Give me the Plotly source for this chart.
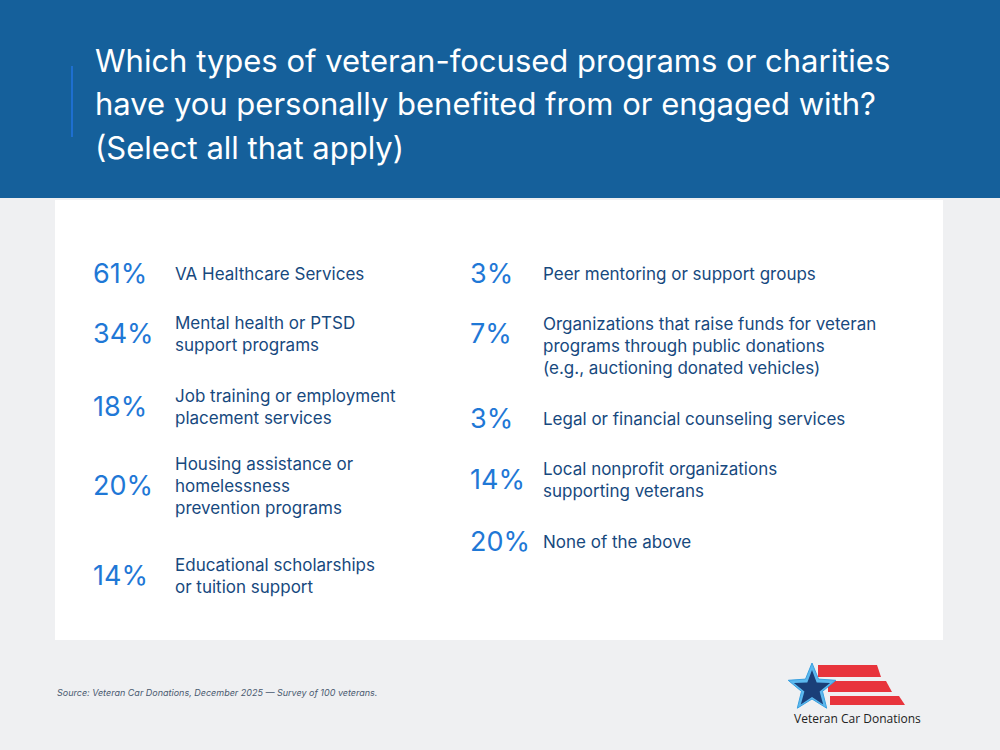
import math
import plotly.graph_objects as go

title_lines = ["Which types of veteran-focused programs or charities",
               "have you personally benefited from or engaged with?",
               "(Select all that apply)"]
left_pcts = ["61%", "34%", "18%", "20%", "14%"]
left_labels = ["VA Healthcare Services",
               "Mental health or PTSD<br>support programs",
               "Job training or employment<br>placement services",
               "Housing assistance or<br>homelessness<br>prevention programs",
               "Educational scholarships<br>or tuition support"]
right_pcts = ["3%", "7%", "3%", "14%", "20%"]
right_labels = ["Peer mentoring or support groups",
                "Organizations that raise funds for veteran<br>programs through public donations<br>(e.g., auctioning donated vehicles)",
                "Legal or financial counseling services",
                "Local nonprofit organizations<br>supporting veterans",
                "None of the above"]
source = "Source: Veteran Car Donations, December 2025 — Survey of 100 veterans."
brand = "Veteran Car Donations"

left_y = [276, 336, 409, 488, 578]
right_y = [276, 348, 421, 482, 544]
right_pct_y = [276, 336, 421, 482, 544]

FONT = "Inter"
PCT_C = "#1F78D6"
LAB_C = "#17497E"

fig = go.Figure()
fig.add_trace(go.Scatter(x=[93]*5, y=left_y, mode="text", text=left_pcts, textposition="middle right",
                         textfont=dict(family=FONT, size=27, color=PCT_C), hoverinfo="skip"))
fig.add_trace(go.Scatter(x=[175]*5, y=left_y, mode="text", text=left_labels, textposition="middle right",
                         textfont=dict(family=FONT, size=17, color=LAB_C), hoverinfo="skip"))
fig.add_trace(go.Scatter(x=[470]*5, y=right_pct_y, mode="text", text=right_pcts, textposition="middle right",
                         textfont=dict(family=FONT, size=27, color=PCT_C), hoverinfo="skip"))
fig.add_trace(go.Scatter(x=[543]*5, y=right_y, mode="text", text=right_labels, textposition="middle right",
                         textfont=dict(family=FONT, size=17, color=LAB_C), hoverinfo="skip"))

shapes = [
    dict(type="rect", x0=0, x1=1000, y0=0, y1=198, fillcolor="#15609B", line_width=0, layer="below"),
    dict(type="rect", x0=55, x1=943, y0=200, y1=640, fillcolor="white", line_width=0, layer="below"),
    dict(type="line", x0=72, x1=72, y0=66, y1=137, line=dict(color="#1E6FD0", width=2)),
]
stripes = [((818, 665), (877, 665), (881, 677), (818, 677)),
           ((828, 681), (886, 681), (892, 692), (828, 692)),
           ((830, 696), (899, 696), (905, 705), (830, 705))]
for pts in stripes:
    p = "M " + " L ".join(f"{x},{y}" for x, y in pts) + " Z"
    shapes.append(dict(type="path", path=p, fillcolor="#E8343C", line_width=0))

def star(cx, cy, R, r):
    pts = []
    for i in range(10):
        a = -math.pi/2 + i*math.pi/5
        rad = R if i % 2 == 0 else r
        pts.append((cx + rad*math.cos(a), cy + rad*math.sin(a)))
    return "M " + " L ".join(f"{x:.1f},{y:.1f}" for x, y in pts) + " Z"

shapes.append(dict(type="path", path=star(812, 688, 25, 11), fillcolor="#5BB8EE", line=dict(color="#3AA0E0", width=1)))
shapes.append(dict(type="path", path=star(812, 689, 19, 8), fillcolor="#1A3F78", line_width=0))

annotations = [
    dict(x=93, y=60 + 43.5*i, text=t, showarrow=False, xanchor="left", yanchor="middle",
         font=dict(family=FONT, size=31, color="white")) for i, t in enumerate(title_lines)
]
annotations.append(dict(x=55, y=692, text=f"<i>{source}</i>", showarrow=False, xanchor="left", yanchor="middle",
                        font=dict(family=FONT, size=9, color="#4A5A70")))
annotations.append(dict(x=857, y=718, text=brand, showarrow=False, xanchor="center", yanchor="middle",
                        font=dict(family="Open Sans", size=12, color="#222222")))

fig.update_layout(
    width=1000, height=750, margin=dict(l=0, r=0, t=0, b=0),
    paper_bgcolor="#EFF0F2", plot_bgcolor="#EFF0F2", showlegend=False,
    xaxis=dict(range=[0, 1000], visible=False, fixedrange=True),
    yaxis=dict(range=[750, 0], visible=False, fixedrange=True),
    shapes=shapes, annotations=annotations,
)
fig.write_html("out.html", config={"displayModeBar": False},
               post_script="document.body.style.margin='0';document.body.style.overflow='hidden';")
